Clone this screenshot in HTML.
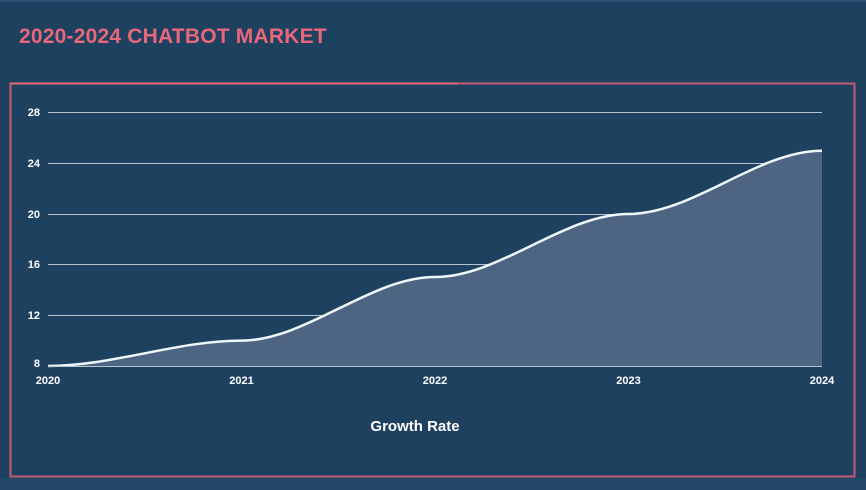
<!DOCTYPE html>
<html><head><meta charset="utf-8"><style>
html,body{margin:0;padding:0;}
body{width:866px;height:490px;background:#1e4160;overflow:hidden;position:relative;font-family:"Liberation Sans",sans-serif;}
.t{position:absolute;left:19px;top:25px;color:#e8677a;font-weight:bold;font-size:21px;letter-spacing:0.2px;}
</style></head><body>
<div style="position:absolute;left:0;top:0;width:866px;height:2px;background:#2d5574"></div>
<div style="position:absolute;left:0;top:478px;width:866px;height:12px;background:#244868"></div>
<div class="t">2020-2024 CHATBOT MARKET</div>
<svg width="866" height="490" style="position:absolute;left:0;top:0" font-family="Liberation Sans, sans-serif">
<rect x="10.5" y="83.5" width="844" height="393" fill="none" stroke="#c85a70" stroke-width="2"/>
<line x1="10" y1="83.5" x2="458" y2="83.5" stroke="#e8677a" stroke-width="2"/>
<g stroke="#b8c4d0" stroke-width="1">
<line x1="48" y1="112.5" x2="822" y2="112.5"/>
<line x1="48" y1="163.5" x2="822" y2="163.5"/>
<line x1="48" y1="214.5" x2="822" y2="214.5"/>
<line x1="48" y1="264.5" x2="822" y2="264.5"/>
<line x1="48" y1="315.5" x2="822" y2="315.5"/>
</g>
<path d="M48,366 C112.5,366 177,340.6 241.5,340.6 C306,340.6 370.5,277 435,277 C499.5,277 564,214 628.5,214 C693,214 757.5,150.7 822,150.7 L822,366 Z" fill="#4d6482"/>
<path d="M48,366 C112.5,366 177,340.6 241.5,340.6 C306,340.6 370.5,277 435,277 C499.5,277 564,214 628.5,214 C693,214 757.5,150.7 822,150.7" fill="none" stroke="#eef8fb" stroke-width="2.5"/>
<line x1="48" y1="366.5" x2="822" y2="366.5" stroke="#b8c4d0" stroke-width="1"/>
<g fill="#ffffff" font-size="11" font-weight="bold">
<text x="40" y="116" text-anchor="end">28</text>
<text x="40" y="167" text-anchor="end">24</text>
<text x="40" y="218" text-anchor="end">20</text>
<text x="40" y="268" text-anchor="end">16</text>
<text x="40" y="319" text-anchor="end">12</text>
<text x="40" y="367" text-anchor="end">8</text>
<text x="48" y="384" text-anchor="middle">2020</text>
<text x="241.5" y="384" text-anchor="middle">2021</text>
<text x="435" y="384" text-anchor="middle">2022</text>
<text x="628.5" y="384" text-anchor="middle">2023</text>
<text x="822" y="384" text-anchor="middle">2024</text>
<text x="415" y="431" text-anchor="middle" font-size="15">Growth Rate</text>
</g>
</svg>
</body></html>
